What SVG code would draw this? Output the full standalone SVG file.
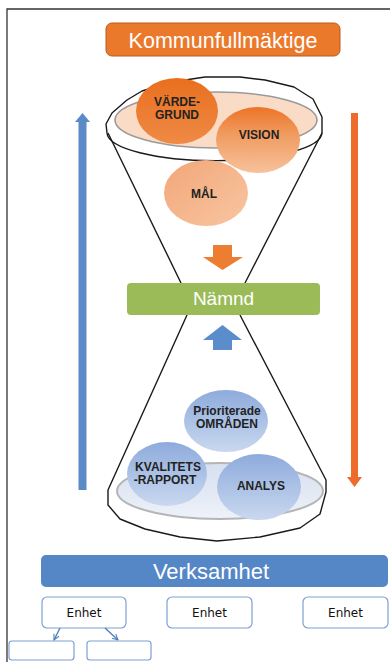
<svg xmlns="http://www.w3.org/2000/svg" width="390" height="662" viewBox="0 0 390 662">
<defs>
<style>
.title{font-family:"Liberation Sans",Arial,sans-serif;fill:#fff;text-anchor:middle}
.lbl{font-family:"Liberation Sans",Arial,sans-serif;font-weight:bold;fill:#222;text-anchor:middle;font-size:12px}
.enh{font-family:"DejaVu Sans",Verdana,sans-serif;fill:#111;text-anchor:middle;font-size:12px}
.box{fill:#fff;stroke:#7EA0D2;stroke-width:1.2}
.funnel{fill:none;stroke:#1a1a1a;stroke-width:1.4;stroke-linejoin:round}
.conn{stroke:#4F81BD;stroke-width:1.4;fill:none}
</style>
<linearGradient id="gOrDark" x1="0" y1="0" x2="0" y2="1">
<stop offset="0" stop-color="#E96F1E"/><stop offset="1" stop-color="#EF8A45"/>
</linearGradient>
<linearGradient id="gVision" x1="0" y1="0" x2="0" y2="1">
<stop offset="0" stop-color="#EC7426"/><stop offset="0.4" stop-color="#F09A5E"/><stop offset="1" stop-color="#F7C29C"/>
</linearGradient>
<linearGradient id="gMal" x1="0" y1="0" x2="1" y2="1">
<stop offset="0" stop-color="#F2A678"/><stop offset="1" stop-color="#F8C6A2"/>
</linearGradient>
<linearGradient id="gBlue" x1="0" y1="0" x2="0" y2="1">
<stop offset="0" stop-color="#8EABDC"/><stop offset="1" stop-color="#C9D8EF"/>
</linearGradient>
<linearGradient id="gPlate" x1="0" y1="0" x2="0" y2="1">
<stop offset="0" stop-color="#D6E0EF"/><stop offset="1" stop-color="#EEF2F9"/>
</linearGradient>
<marker id="ah" viewBox="0 0 10 10" refX="9" refY="5" markerWidth="7" markerHeight="7" orient="auto" markerUnits="userSpaceOnUse">
<path d="M1,1 L9,5 L1,9" fill="none" stroke="#4F81BD" stroke-width="1.6"/>
</marker>
</defs>

<rect width="390" height="662" fill="#fff"/>
<!-- frame -->
<path d="M7,662 L7,9 L390,9" fill="none" stroke="#333" stroke-width="1.3"/>

<!-- big side arrows -->
<g id="arrow-up-left">
<path d="M78.5,490 L78.5,122 L75,122 L82.5,113 L90,122 L86.5,122 L86.5,490 Z" fill="#5A8AC8"/>
</g>
<g id="arrow-down-right">
<path d="M351,113 L358,113 L358,477 L362,477 L354.5,487 L347,477 L351,477 Z" fill="#ED6C2B"/>
</g>

<!-- funnel structure -->
<g id="hourglass">
<path class="funnel" d="M108,133 L181,283 M322,133 L245,283"/>
<path class="funnel" d="M107,133 L106,124 L112,113 L127,100 L142,91 L172,82 L205,77 L240,77 L265,80 L294,87 L313,99 L322,117 L322,132 A107,28 0 0 1 107,133 Z" fill="#fff"/>
<ellipse cx="216" cy="120" rx="101" ry="28" fill="#F9DBC6" stroke="#9A9A9A" stroke-width="1.6"/>
<path class="funnel" d="M187,315 L108,490 L108,505 L120,519 L145,529 L180,537 L217,541 L260,537 L300,528 L320,514 L326,492 L326,480 L240,315"/>
<ellipse cx="220" cy="491" rx="103" ry="28" fill="url(#gPlate)" stroke="#B5B5B5" stroke-width="2"/>
</g>

<g id="kommunfullmaktige">
<rect x="106" y="23" width="234" height="33" rx="6" fill="#EB792C" stroke="#B85C1E" stroke-width="1"/>
<text class="title" x="223" y="47.5" font-size="21.5">Kommunfullmäktige</text>
</g>

<g id="vardegrund">
<ellipse cx="177" cy="111" rx="41" ry="33" fill="url(#gOrDark)"/>
<text class="lbl" x="177" y="106">VÄRDE-</text>
<text class="lbl" x="177" y="119">GRUND</text>
</g>
<g id="vision">
<ellipse cx="258" cy="140" rx="42" ry="33" fill="url(#gVision)"/>
<text class="lbl" x="259" y="138.5" font-size="13">VISION</text>
</g>
<g id="mal">
<ellipse cx="206" cy="193" rx="42" ry="33" fill="url(#gMal)"/>
<text class="lbl" x="204" y="197.5">MÅL</text>
</g>

<g id="flow-arrows">
<path d="M213,245 L232,245 L232,257 L243,257 L222.5,270 L203,257 L213,257 Z" fill="#ED7D31"/>
<path d="M213,350 L232,350 L232,340 L242,340 L222.5,325 L203,340 L213,340 Z" fill="#5B8CCB"/>
</g>

<g id="namnd">
<rect x="127" y="283" width="193" height="32" rx="4" fill="#9BBB59"/>
<text class="title" x="223.5" y="305" font-size="19">Nämnd</text>
</g>

<g id="prioriterade">
<ellipse cx="226" cy="421" rx="42" ry="31" fill="url(#gBlue)"/>
<text class="lbl" x="227" y="415" font-size="12.5">Prioriterade</text>
<text class="lbl" x="227" y="427.5" font-size="12.5">OMRÅDEN</text>
</g>
<g id="kvalitetsrapport">
<ellipse cx="167" cy="474" rx="40" ry="32" fill="url(#gBlue)"/>
<text class="lbl" x="168" y="471" font-size="12.5">KVALITETS</text>
<text class="lbl" x="165" y="483.5" font-size="12.5">-RAPPORT</text>
</g>
<g id="analys">
<ellipse cx="259" cy="487" rx="42" ry="33" fill="url(#gBlue)"/>
<text class="lbl" x="261" y="490" font-size="12.5">ANALYS</text>
</g>

<g id="verksamhet">
<rect x="41" y="555" width="347" height="32" rx="5" fill="#5587C6"/>
<text class="title" x="211" y="578.5" font-size="22">Verksamhet</text>
</g>

<g id="enhet1">
<rect class="box" x="42" y="597" width="84" height="31" rx="5"/>
<text class="enh" x="84" y="617">Enhet</text>
</g>
<g id="enhet2">
<rect class="box" x="167" y="597" width="85" height="31" rx="5"/>
<text class="enh" x="209.5" y="617">Enhet</text>
</g>
<g id="enhet3">
<rect class="box" x="303" y="597" width="85" height="31" rx="5"/>
<text class="enh" x="345.5" y="617">Enhet</text>
</g>
<g id="sub1">
<rect class="box" x="9" y="641" width="65" height="19" rx="3"/>
</g>
<g id="sub2">
<rect class="box" x="87" y="641" width="64" height="19" rx="3"/>
</g>

<g id="connectors">
<line class="conn" x1="60" y1="628" x2="54" y2="640" marker-end="url(#ah)"/>
<line class="conn" x1="105" y1="628" x2="118" y2="640" marker-end="url(#ah)"/>
</g>
</svg>
